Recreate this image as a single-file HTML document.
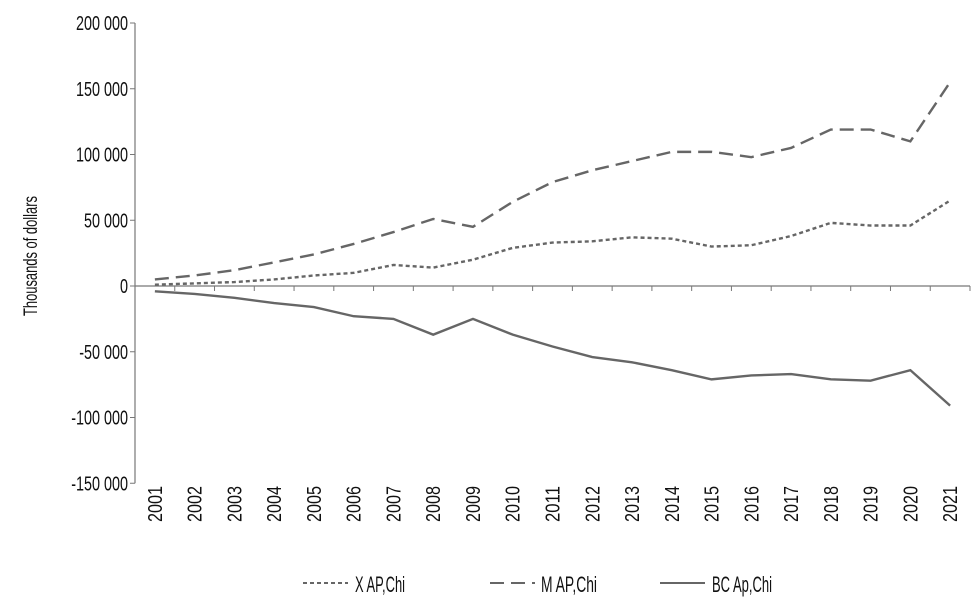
<!DOCTYPE html>
<html><head><meta charset="utf-8"><style>
body{margin:0;background:#fff;}
svg{font-family:"Liberation Sans Narrow","Liberation Sans",sans-serif;}
</style></head><body>
<svg id="chart" width="978" height="607"></svg>
<script>
const years=["2001","2002","2003","2004","2005","2006","2007","2008","2009","2010","2011","2012","2013","2014","2015","2016","2017","2018","2019","2020","2021"];
const xAP=[1000,2000,3000,5000,8000,10000,16000,14000,20000,29000,33000,34000,37000,36000,30000,31000,38000,48000,46000,46000,65000];
const mAP=[5000,8000,12000,18000,24000,32000,41000,51000,45000,64000,79000,88000,95000,102000,102000,98000,105000,119000,119000,110000,155000];
const bcAP=[-4000,-6000,-9000,-13000,-16000,-23000,-25000,-37000,-25000,-37000,-46000,-54000,-58000,-64000,-71000,-68000,-67000,-71000,-72000,-64000,-91000];
const yTicks=[200000,150000,100000,50000,0,-50000,-100000,-150000];
const yTickLabels=["200 000","150 000","100 000","50 000","0","-50 000","-100 000","-150 000"];
const NS="http://www.w3.org/2000/svg";
const svg=document.getElementById('chart');
const X0=135,X1=970,step=(X1-X0)/years.length;
function xs(i){return X0+step*(i+0.5);}
function ys(v){return 286-v*(263/200000);}
function el(t,a,p){const e=document.createElementNS(NS,t);for(const k in a)e.setAttribute(k,a[k]);(p||svg).appendChild(e);return e;}
const ax=el('line',{x1:X0,y1:ys(200000),x2:X0,y2:ys(-150000),stroke:'#777','stroke-width':1.2});


yTicks.forEach((v,i)=>{
 el('line',{x1:X0-5,x2:X0,y1:ys(v),y2:ys(v),stroke:'#777'});
 const t=el('text',{transform:`translate(128,${ys(v)+7}) scale(0.72,1)`,x:0,y:0,'text-anchor':'end','font-size':20,fill:'#111'});
 t.textContent=yTickLabels[i];
 
 
});
const xa=el('line',{x1:X0,x2:X1,y1:ys(0),y2:ys(0),stroke:'#777','stroke-width':1.2});


for(let i=1;i<=years.length;i++)el('line',{x1:X0+step*i,x2:X0+step*i,y1:ys(0),y2:ys(0)+5,stroke:'#777'});
years.forEach((y,i)=>{
 const t=el('text',{transform:`translate(${xs(i)+7},486) rotate(-90)`,'text-anchor':'end','font-size':20,fill:'#111',textLength:36,lengthAdjust:'spacingAndGlyphs'});
 t.textContent=y;
 
 
});
const yt=el('text',{transform:'translate(37,256) rotate(-90)','text-anchor':'middle','font-size':19,fill:'#111',textLength:120,lengthAdjust:'spacingAndGlyphs'});
yt.textContent='Thousands of dollars';


function series(d,dash,name){
 const p=el('polyline',{points:d.map((v,i)=>xs(i)+','+ys(v)).join(' '),fill:'none',stroke:'#666','stroke-width':2.4,'stroke-dasharray':dash});
 
 
}
series(xAP,'4 3','x-ap-chi-line');
series(mAP,'14 7','m-ap-chi-line');
series(bcAP,'none','bc-ap-chi-line');
const leg=[[303,355,'4 3','X AP,Chi','legend-x-ap-chi',50],[490,541,'14 7','M AP,Chi','legend-m-ap-chi',56],[660,712,'none','BC Ap,Chi','legend-bc-ap-chi',60]];
leg.forEach(l=>{
 const g=el('g',{});
 
 
 el('line',{x1:l[0],x2:l[0]+45,y1:583,y2:583,stroke:'#666','stroke-width':2,'stroke-dasharray':l[2]},g);
 const t=el('text',{x:l[1],y:592,'font-size':22,fill:'#111',textLength:l[5],lengthAdjust:'spacingAndGlyphs'},g);t.textContent=l[3];
});
</script>
</body></html>
